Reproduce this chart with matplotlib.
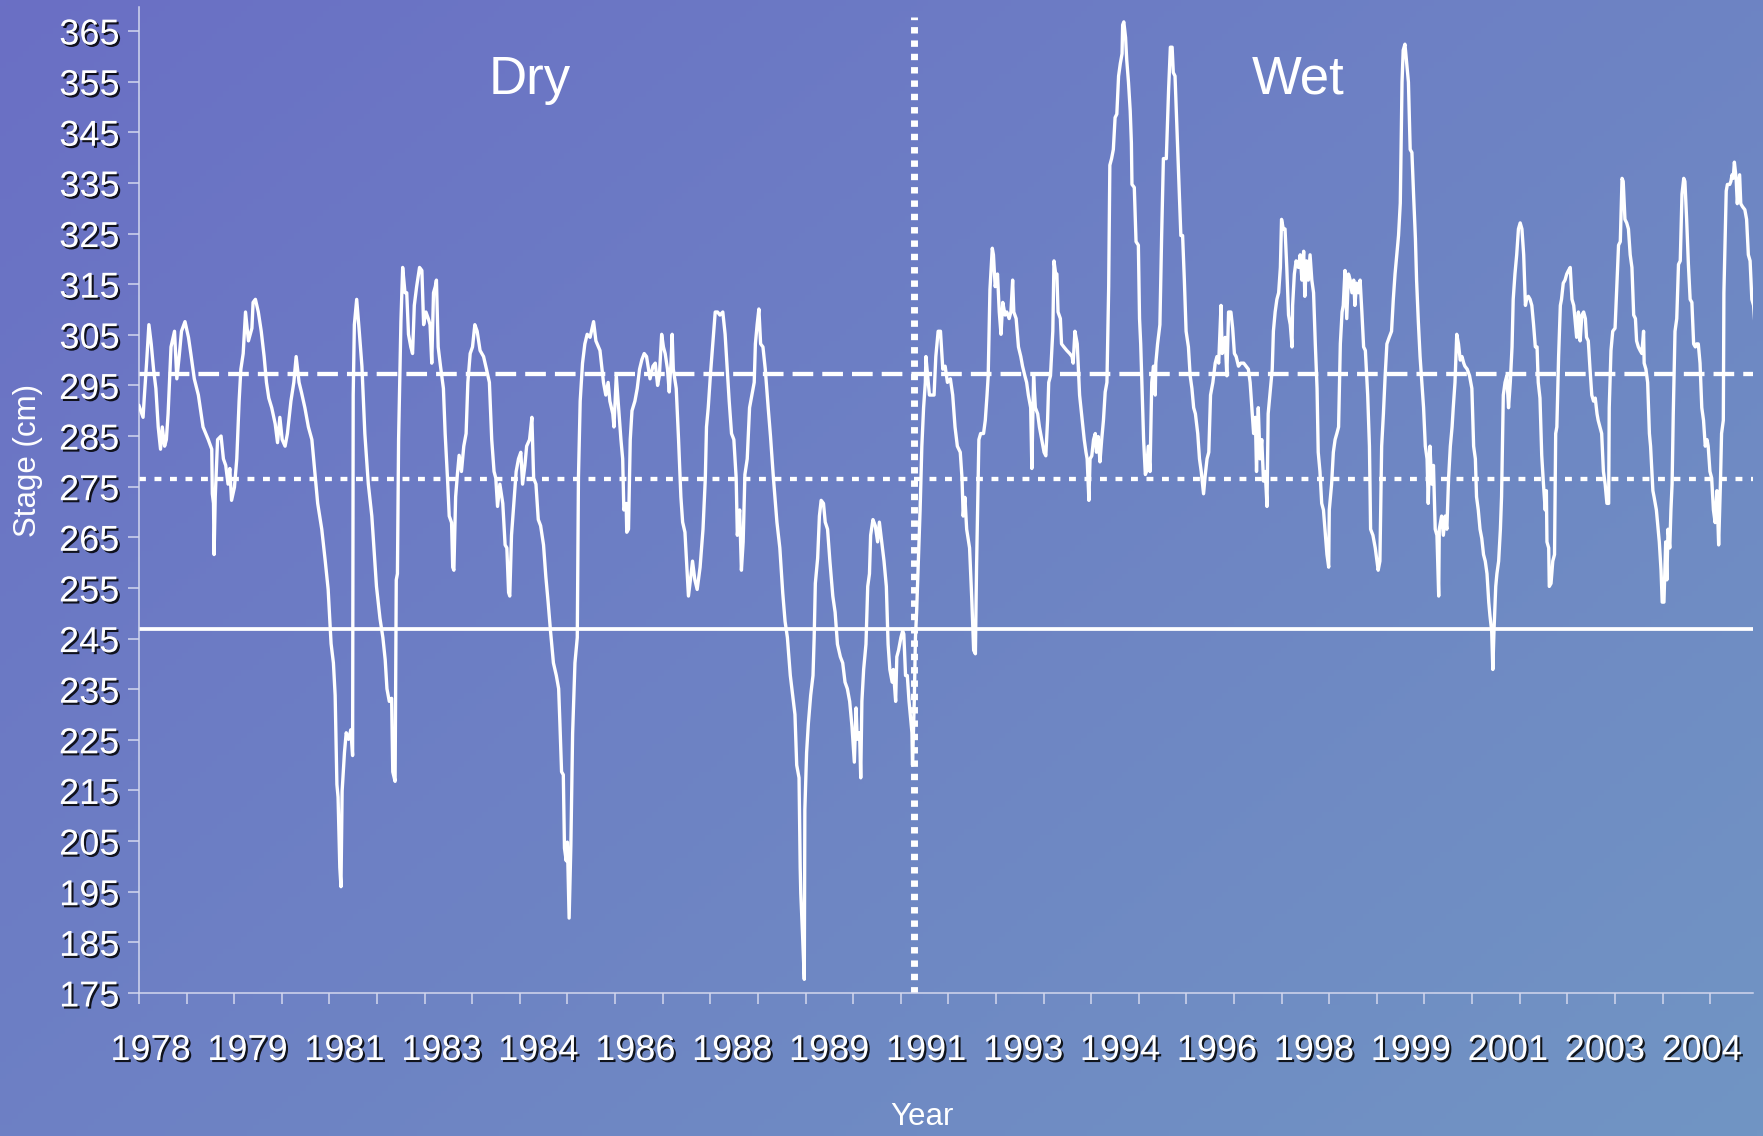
import numpy as np
import matplotlib
matplotlib.use("Agg")
import matplotlib.pyplot as plt
import matplotlib.patheffects as pe

plt.rcParams['font.family'] = ['Liberation Sans', 'DejaVu Sans']

# stage record (decimal year, stage in cm)
dry_record = [
    (1978.00, 291.0), (1978.07, 288.7), (1978.09, 292.5), (1978.13, 299.4), (1978.17, 307.0),
    (1978.21, 303.2), (1978.25, 298.2), (1978.29, 294.4), (1978.33, 286.8), (1978.37, 282.4),
    (1978.40, 286.8), (1978.44, 283.0), (1978.47, 284.3), (1978.50, 289.4), (1978.55, 302.6),
    (1978.61, 305.7), (1978.65, 296.3), (1978.69, 300.7), (1978.73, 305.7), (1978.79, 307.6),
    (1978.85, 304.5), (1978.89, 301.3), (1978.95, 296.3), (1979.02, 293.1), (1979.10, 286.8),
    (1979.19, 284.3), (1979.25, 282.4), (1979.26, 273.6), (1979.28, 271.7), (1979.29, 261.6),
    (1979.31, 273.0), (1979.35, 284.3), (1979.41, 285.0), (1979.45, 280.5), (1979.49, 279.2),
    (1979.53, 275.5), (1979.56, 278.6), (1979.59, 272.3), (1979.64, 274.9), (1979.68, 280.5),
    (1979.72, 291.9), (1979.75, 298.2), (1979.79, 301.3), (1979.83, 309.5), (1979.88, 303.8),
    (1979.94, 306.3), (1979.96, 311.4), (1980.00, 312.0), (1980.05, 309.5), (1980.10, 305.7),
    (1980.15, 300.7), (1980.19, 295.6), (1980.23, 292.5), (1980.28, 290.6), (1980.34, 287.4),
    (1980.38, 283.7), (1980.42, 288.7), (1980.46, 284.3), (1980.51, 283.0), (1980.55, 285.5),
    (1980.61, 291.9), (1980.66, 295.6), (1980.70, 300.7), (1980.75, 295.6), (1980.79, 293.7),
    (1980.85, 290.6), (1980.91, 286.8), (1980.97, 284.3), (1981.02, 278.0), (1981.07, 271.7),
    (1981.14, 266.6), (1981.20, 260.3), (1981.25, 254.7), (1981.30, 244.0), (1981.34, 240.2),
    (1981.37, 233.8), (1981.40, 216.2), (1981.42, 213.7), (1981.45, 199.8), (1981.47, 196.0),
    (1981.49, 214.9), (1981.53, 222.5), (1981.56, 226.4), (1981.60, 225.1), (1981.64, 227.0),
    (1981.67, 221.9), (1981.68, 293.1), (1981.70, 307.0), (1981.74, 312.0), (1981.78, 306.3),
    (1981.83, 298.8), (1981.88, 285.5), (1981.94, 275.5),
    (1982.00, 269.2), (1982.04, 262.2), (1982.08, 255.3), (1982.14, 249.0), (1982.19, 245.2),
    (1982.23, 240.8), (1982.26, 235.1), (1982.30, 232.6), (1982.34, 233.2), (1982.36, 218.7),
    (1982.40, 216.8), (1982.42, 256.6), (1982.44, 257.8), (1982.46, 284.3), (1982.50, 307.6),
    (1982.53, 318.3), (1982.57, 313.3), (1982.60, 313.3), (1982.63, 305.1), (1982.67, 302.6),
    (1982.70, 301.3), (1982.73, 310.8), (1982.77, 314.5), (1982.82, 318.3), (1982.86, 317.7),
    (1982.89, 307.0), (1982.93, 309.5), (1982.97, 308.2), (1983.00, 307.0), (1983.03, 299.4),
    (1983.06, 313.3), (1983.09, 314.5), (1983.11, 315.8), (1983.14, 302.6), (1983.18, 298.8),
    (1983.23, 294.4), (1983.26, 285.5), (1983.30, 276.7), (1983.33, 269.2), (1983.37, 267.9),
    (1983.39, 259.1), (1983.41, 258.5), (1983.44, 273.0), (1983.47, 277.4), (1983.50, 281.2),
    (1983.54, 278.0), (1983.58, 283.0), (1983.62, 285.5), (1983.65, 295.6), (1983.69, 301.3),
    (1983.73, 302.6), (1983.77, 307.0), (1983.81, 305.7), (1983.86, 301.9), (1983.92, 300.7),
    (1983.97, 298.2), (1984.02, 295.6), (1984.06, 284.3), (1984.10, 278.0), (1984.13, 276.7),
    (1984.16, 271.1), (1984.20, 275.5), (1984.25, 271.7), (1984.29, 263.5), (1984.32, 262.9),
    (1984.35, 254.1), (1984.37, 253.4), (1984.40, 265.4), (1984.44, 271.7), (1984.48, 278.0),
    (1984.52, 280.5), (1984.56, 281.8), (1984.59, 275.5), (1984.63, 279.2), (1984.66, 283.0),
    (1984.71, 284.3), (1984.75, 288.7), (1984.78, 276.7), (1984.82, 275.5), (1984.86, 268.5),
    (1984.90, 267.3), (1984.95, 263.5), (1984.99, 257.2), (1985.03, 252.1), (1985.07, 246.5),
    (1985.12, 240.2), (1985.17, 237.7), (1985.21, 235.1), (1985.23, 228.8), (1985.26, 218.7),
    (1985.29, 218.1), (1985.31, 203.6), (1985.34, 201.1), (1985.36, 204.8), (1985.39, 189.8),
    (1985.42, 204.2), (1985.45, 226.3), (1985.49, 240.2), (1985.53, 245.2), (1985.55, 276.7),
    (1985.58, 291.9), (1985.62, 299.4), (1985.66, 303.2), (1985.70, 305.1), (1985.75, 304.5),
    (1985.81, 307.6), (1985.85, 303.8),
    (1985.92, 301.9), (1985.98, 295.6), (1986.02, 293.1), (1986.06, 295.6), (1986.09, 291.9),
    (1986.14, 289.4), (1986.16, 286.8), (1986.20, 296.9), (1986.24, 290.6), (1986.28, 284.3),
    (1986.31, 280.5), (1986.33, 270.4), (1986.37, 271.7), (1986.38, 266.0), (1986.41, 266.6),
    (1986.44, 284.3), (1986.47, 290.0), (1986.52, 291.9), (1986.56, 294.4), (1986.60, 298.2),
    (1986.64, 300.1), (1986.68, 301.3), (1986.72, 300.7), (1986.78, 296.3), (1986.83, 298.8),
    (1986.87, 299.4), (1986.91, 295.0), (1986.94, 296.9), (1986.98, 305.1), (1987.01, 302.6),
    (1987.04, 301.3), (1987.08, 298.2), (1987.11, 293.7), (1987.14, 299.4), (1987.16, 305.1),
    (1987.18, 298.2), (1987.23, 294.4), (1987.27, 284.3), (1987.31, 273.0), (1987.34, 268.0),
    (1987.38, 266.0), (1987.41, 259.7), (1987.44, 253.4), (1987.48, 257.2), (1987.51, 260.3),
    (1987.55, 256.6), (1987.59, 254.7), (1987.64, 259.1), (1987.69, 266.6), (1987.73, 276.7),
    (1987.75, 286.8), (1987.78, 290.6), (1987.82, 297.5), (1987.87, 305.1), (1987.90, 309.5),
    (1987.94, 309.5), (1987.98, 308.9), (1988.03, 309.5), (1988.07, 305.1), (1988.10, 299.4),
    (1988.14, 291.9), (1988.18, 285.5), (1988.22, 284.3), (1988.26, 276.7), (1988.28, 265.4),
    (1988.32, 270.4), (1988.35, 258.5), (1988.38, 264.1), (1988.41, 277.4), (1988.45, 280.5),
    (1988.49, 290.6), (1988.53, 293.1), (1988.57, 295.6), (1988.59, 303.2), (1988.62, 307.0),
    (1988.65, 310.1), (1988.68, 303.2), (1988.72, 302.6), (1988.76, 298.2), (1988.81, 290.6),
    (1988.85, 284.9), (1988.90, 276.7), (1988.96, 268.0), (1989.01, 262.9), (1989.06, 254.0),
    (1989.10, 248.4), (1989.14, 245.2), (1989.19, 237.7), (1989.23, 233.8), (1989.27, 230.0),
    (1989.30, 220.0), (1989.34, 217.5), (1989.36, 199.8), (1989.37, 194.7), (1989.40, 186.6),
    (1989.43, 177.7), (1989.44, 211.2), (1989.47, 222.5), (1989.50, 228.2), (1989.54, 233.8),
    (1989.58, 237.7), (1989.60, 245.2), (1989.62, 255.9), (1989.66, 260.9), (1989.69, 269.2),
    (1989.72, 272.3), (1989.76, 271.7), (1989.79, 268.0), (1989.83, 266.6),
    (1989.87, 260.3), (1989.92, 253.4), (1989.96, 250.2), (1990.00, 243.9), (1990.05, 241.4),
    (1990.09, 240.2), (1990.13, 236.4), (1990.17, 235.1), (1990.21, 232.6), (1990.25, 227.6),
    (1990.29, 220.6), (1990.32, 231.3), (1990.34, 225.1), (1990.38, 226.4), (1990.40, 217.5),
    (1990.42, 232.6), (1990.45, 238.9), (1990.49, 243.9), (1990.52, 255.3), (1990.55, 257.8),
    (1990.57, 265.4), (1990.61, 268.5), (1990.65, 267.3), (1990.69, 264.1), (1990.72, 268.0),
    (1990.76, 264.1), (1990.80, 260.3), (1990.84, 255.3), (1990.87, 243.9), (1990.90, 238.9),
    (1990.94, 236.4), (1990.96, 238.9), (1991.00, 232.6), (1991.02, 241.4), (1991.05, 242.7),
    (1991.09, 245.2), (1991.12, 246.5), (1991.14, 245.9), (1991.17, 237.7), (1991.20, 237.7),
    (1991.23, 232.6), (1991.25, 230.1), (1991.28, 226.4), (1991.29, 220.0),
]

wet_record = [
    (1991.32, 232.6), (1991.34, 245.2), (1991.36, 250.2), (1991.39, 260.3), (1991.42, 270.4),
    (1991.45, 283.0), (1991.48, 290.6), (1991.51, 295.6), (1991.52, 300.7), (1991.55, 296.9),
    (1991.58, 293.1), (1991.62, 293.1), (1991.66, 293.1), (1991.69, 300.7), (1991.73, 305.7),
    (1991.77, 305.7), (1991.81, 298.2), (1991.85, 298.8), (1991.89, 295.6), (1991.94, 296.3),
    (1991.98, 293.1), (1992.02, 286.8), (1992.06, 283.0), (1992.11, 281.8), (1992.14, 276.7),
    (1992.16, 269.2), (1992.19, 272.9), (1992.22, 266.6), (1992.27, 262.9), (1992.31, 252.2),
    (1992.34, 242.7), (1992.37, 242.0), (1992.39, 259.1), (1992.43, 284.3), (1992.46, 285.5),
    (1992.51, 285.5), (1992.54, 288.1), (1992.57, 293.1), (1992.59, 296.9), (1992.62, 313.9),
    (1992.66, 322.1), (1992.68, 320.8), (1992.71, 314.5), (1992.75, 317.0), (1992.78, 309.5),
    (1992.81, 305.1), (1992.84, 311.4), (1992.88, 308.9), (1992.91, 309.5), (1992.95, 308.2),
    (1992.98, 309.5), (1993.01, 315.8), (1993.03, 309.5), (1993.07, 308.2), (1993.11, 302.6),
    (1993.15, 300.7), (1993.18, 298.8), (1993.22, 296.9), (1993.25, 295.6), (1993.28, 293.1),
    (1993.32, 290.6), (1993.34, 278.6), (1993.37, 296.9), (1993.40, 290.6), (1993.44, 289.4),
    (1993.47, 286.8), (1993.51, 284.3), (1993.55, 281.8), (1993.58, 281.1), (1993.61, 288.1),
    (1993.63, 295.6), (1993.66, 296.9), (1993.70, 305.7), (1993.72, 319.6), (1993.75, 317.0),
    (1993.77, 317.0), (1993.79, 309.5),
    (1993.83, 308.2), (1993.85, 303.2), (1993.89, 302.6), (1993.94, 301.9), (1993.99, 301.3),
    (1994.03, 300.7), (1994.05, 299.4), (1994.08, 305.7), (1994.12, 303.2), (1994.16, 293.1),
    (1994.20, 288.7), (1994.24, 284.3), (1994.27, 281.8), (1994.29, 280.5), (1994.32, 272.3),
    (1994.34, 280.5), (1994.37, 281.1), (1994.40, 284.3), (1994.43, 285.5), (1994.45, 281.8),
    (1994.48, 284.9), (1994.51, 279.9), (1994.54, 284.3), (1994.57, 288.1), (1994.60, 293.7),
    (1994.63, 295.6), (1994.66, 314.5), (1994.68, 338.5), (1994.71, 339.8), (1994.74, 341.6),
    (1994.77, 347.9), (1994.80, 348.6), (1994.83, 356.1), (1994.86, 358.6), (1994.89, 360.5),
    (1994.90, 366.2), (1994.92, 366.8), (1994.95, 363.7), (1994.97, 359.3), (1995.00, 354.9),
    (1995.03, 349.2), (1995.05, 342.9), (1995.06, 334.7), (1995.10, 334.1), (1995.13, 323.4),
    (1995.17, 322.7), (1995.19, 308.2), (1995.21, 303.2), (1995.23, 295.6), (1995.26, 284.3),
    (1995.29, 277.4), (1995.31, 278.0), (1995.34, 283.0), (1995.37, 278.0), (1995.40, 295.6),
    (1995.43, 298.8), (1995.46, 293.1), (1995.47, 299.4), (1995.50, 303.2), (1995.54, 307.0),
    (1995.57, 324.6), (1995.60, 339.8), (1995.65, 339.8), (1995.67, 346.7), (1995.69, 353.6),
    (1995.72, 361.8), (1995.75, 361.8), (1995.77, 356.8), (1995.80, 356.1), (1995.83, 346.7),
    (1995.86, 337.2), (1995.90, 324.6), (1995.93, 324.6), (1995.96, 315.8), (1995.99, 305.7),
    (1996.03, 302.6), (1996.06, 296.9), (1996.09, 294.4), (1996.12, 290.6), (1996.15, 289.4),
    (1996.19, 285.5), (1996.22, 280.5), (1996.25, 278.0), (1996.29, 273.6), (1996.32, 277.4),
    (1996.35, 280.5), (1996.38, 281.8), (1996.41, 293.1), (1996.45, 295.6), (1996.49, 299.4),
    (1996.52, 300.7), (1996.55, 299.4), (1996.59, 310.8), (1996.61, 301.3), (1996.63, 301.9),
    (1996.66, 304.5), (1996.69, 296.9), (1996.72, 309.5), (1996.76, 309.5), (1996.79, 306.3),
    (1996.82, 301.3), (1996.85, 300.7), (1996.89, 298.8), (1996.93, 299.4), (1996.98, 299.4),
    (1997.02, 298.8), (1997.06, 298.2), (1997.09, 295.6), (1997.12, 290.6), (1997.15, 285.5),
    (1997.18, 288.7), (1997.20, 278.0), (1997.23, 290.6), (1997.26, 280.5), (1997.29, 284.3),
    (1997.32, 276.1), (1997.35, 278.0), (1997.38, 271.1), (1997.40, 289.4), (1997.43, 293.1),
    (1997.47, 298.2), (1997.49, 305.7), (1997.52, 309.5), (1997.55, 312.0), (1997.58, 313.3),
    (1997.61, 318.3), (1997.63, 327.8), (1997.66, 325.9), (1997.69, 325.9), (1997.72, 318.3),
    (1997.75, 308.9),
    (1997.78, 307.0), (1997.81, 302.6), (1997.82, 310.8), (1997.85, 317.0), (1997.88, 319.6),
    (1997.92, 318.3), (1997.95, 320.8), (1997.98, 315.8), (1998.01, 321.5), (1998.03, 312.6),
    (1998.06, 319.6), (1998.09, 315.8), (1998.12, 320.8), (1998.15, 315.8), (1998.18, 313.3),
    (1998.21, 303.2), (1998.24, 294.4), (1998.26, 281.8), (1998.29, 278.0), (1998.32, 271.7),
    (1998.35, 270.4), (1998.38, 266.0), (1998.41, 261.6), (1998.44, 259.1), (1998.45, 270.4),
    (1998.49, 275.5), (1998.52, 281.8), (1998.55, 284.3), (1998.58, 285.5), (1998.61, 286.8),
    (1998.64, 303.2), (1998.67, 309.5), (1998.69, 310.8), (1998.72, 317.7), (1998.75, 308.2),
    (1998.78, 317.0), (1998.81, 315.8), (1998.84, 313.3), (1998.87, 315.8), (1998.89, 310.8),
    (1998.92, 315.2), (1998.95, 313.3), (1998.98, 315.8), (1999.01, 309.5), (1999.04, 302.6),
    (1999.07, 301.9), (1999.11, 293.1), (1999.14, 283.0), (1999.16, 266.6), (1999.20, 265.4),
    (1999.24, 262.9), (1999.27, 260.3), (1999.29, 258.5), (1999.32, 260.3), (1999.35, 283.0),
    (1999.38, 289.4), (1999.41, 296.9), (1999.44, 303.2), (1999.48, 304.5), (1999.52, 305.7),
    (1999.55, 312.0), (1999.58, 317.0), (1999.61, 320.8), (1999.64, 324.6), (1999.67, 331.0),
    (1999.70, 354.9), (1999.72, 361.2), (1999.75, 362.4), (1999.78, 358.6), (1999.81, 354.9),
    (1999.84, 341.6), (1999.87, 341.0), (1999.90, 332.2), (1999.93, 324.0), (1999.95, 315.8),
    (1999.98, 307.6), (2000.01, 300.7), (2000.04, 295.6), (2000.07, 290.6), (2000.10, 283.0),
    (2000.13, 280.5), (2000.15, 271.7), (2000.18, 283.0), (2000.21, 275.5), (2000.24, 279.2),
    (2000.27, 266.6), (2000.30, 265.4), (2000.33, 253.4), (2000.34, 266.6), (2000.38, 269.2),
    (2000.41, 265.4), (2000.44, 269.2), (2000.47, 266.6), (2000.50, 276.7), (2000.53, 283.0),
    (2000.56, 286.8), (2000.58, 290.6), (2000.61, 295.6), (2000.64, 305.1), (2000.67, 303.2),
    (2000.70, 300.0), (2000.73, 300.7), (2000.76, 299.4), (2000.78, 298.8), (2000.82, 298.2),
    (2000.86, 296.9), (2000.90, 294.4), (2000.93, 283.0), (2000.96, 280.5), (2000.98, 273.0),
    (2001.01, 270.4), (2001.04, 266.6), (2001.07, 264.8), (2001.10, 261.6), (2001.13, 260.3),
    (2001.16, 257.8), (2001.19, 252.2), (2001.21, 249.6), (2001.24, 246.5), (2001.26, 238.9),
    (2001.28, 246.5), (2001.31, 255.3), (2001.33, 257.8), (2001.36, 260.3), (2001.39, 266.6),
    (2001.41, 273.0), (2001.44, 293.1), (2001.47, 295.6), (2001.50, 296.9), (2001.53, 290.6),
    (2001.56, 295.6), (2001.59, 302.6), (2001.61, 312.0), (2001.64, 317.0), (2001.67, 320.8),
    (2001.70, 325.9),
    (2001.73, 327.1), (2001.76, 325.9), (2001.79, 320.8), (2001.82, 310.8), (2001.84, 312.0),
    (2001.87, 312.6), (2001.90, 312.0), (2001.93, 310.8), (2001.96, 307.0), (2001.99, 302.6),
    (2002.02, 302.6), (2002.04, 295.6), (2002.07, 292.5), (2002.10, 281.2), (2002.13, 275.5),
    (2002.16, 270.4), (2002.18, 274.2), (2002.19, 264.1), (2002.22, 262.9), (2002.23, 255.3),
    (2002.26, 255.9), (2002.29, 260.3), (2002.32, 261.6), (2002.34, 285.5), (2002.36, 286.8),
    (2002.39, 300.7), (2002.42, 310.8), (2002.44, 312.0), (2002.47, 315.2), (2002.50, 315.8),
    (2002.53, 317.0), (2002.56, 317.7), (2002.59, 318.3), (2002.62, 312.0), (2002.65, 310.8),
    (2002.67, 308.2), (2002.70, 304.5), (2002.73, 309.5), (2002.76, 303.8), (2002.79, 308.9),
    (2002.82, 309.5), (2002.85, 308.2), (2002.87, 304.5), (2002.90, 303.8), (2002.93, 298.2),
    (2002.96, 293.1), (2002.99, 291.9), (2003.02, 292.5), (2003.05, 289.4), (2003.07, 288.1),
    (2003.10, 286.8), (2003.13, 285.5), (2003.16, 278.0), (2003.19, 275.5), (2003.22, 271.7),
    (2003.25, 271.7), (2003.26, 290.6), (2003.29, 301.9), (2003.32, 305.7), (2003.36, 306.3),
    (2003.39, 314.5), (2003.42, 322.7), (2003.45, 323.4), (2003.48, 335.9), (2003.50, 335.3),
    (2003.53, 327.8), (2003.56, 327.1), (2003.59, 325.9), (2003.62, 320.8), (2003.65, 318.3),
    (2003.68, 308.9), (2003.71, 308.2), (2003.73, 303.8), (2003.76, 302.6), (2003.79, 301.9),
    (2003.82, 301.3), (2003.85, 305.7), (2003.86, 299.4), (2003.89, 298.2), (2003.92, 295.6),
    (2003.95, 285.5), (2003.97, 283.0), (2004.01, 274.2), (2004.03, 273.0), (2004.07, 270.4),
    (2004.09, 267.9), (2004.12, 264.1), (2004.15, 258.5), (2004.17, 252.2), (2004.20, 252.2),
    (2004.23, 264.1), (2004.25, 256.6), (2004.27, 266.6), (2004.30, 262.9), (2004.32, 270.4),
    (2004.34, 275.5), (2004.36, 289.4), (2004.39, 305.7), (2004.42, 308.2), (2004.45, 318.9),
    (2004.48, 319.6), (2004.51, 332.8), (2004.54, 335.9), (2004.56, 335.3), (2004.59, 327.8),
    (2004.62, 318.9), (2004.65, 312.0), (2004.68, 311.4), (2004.71, 303.2), (2004.74, 302.6),
    (2004.76, 303.2), (2004.79, 303.2), (2004.82, 299.4), (2004.85, 290.6), (2004.88, 288.1),
    (2004.91, 283.0), (2004.94, 284.3), (2004.96, 283.0), (2004.99, 278.0), (2005.02, 276.7),
    (2005.05, 270.4), (2005.08, 267.9), (2005.11, 274.2), (2005.14, 263.5), (2005.17, 275.5),
    (2005.19, 285.5), (2005.22, 288.1), (2005.23, 313.3), (2005.27, 333.4), (2005.29, 334.7),
    (2005.33, 334.7), (2005.35, 335.3), (2005.37, 336.6), (2005.39, 335.9), (2005.41, 339.1),
    (2005.44, 335.9), (2005.46, 330.9), (2005.50, 336.6), (2005.52, 330.9), (2005.55, 330.3),
    (2005.59, 329.7), (2005.62, 327.8), (2005.65, 320.8), (2005.68, 319.6), (2005.71, 312.0),
    (2005.74, 310.8), (2005.76, 307.6),
]

# reference stages (cm)
high_stage = 297.2
mid_stage = 276.5
low_stage = 246.8
split_year = 1991.31  # dry / wet boundary

year_labels = ['1978', '1979', '1981', '1983', '1984', '1986', '1988', '1989', '1991',
               '1993', '1994', '1996', '1998', '1999', '2001', '2003', '2004']
stage_ticks = list(range(175, 366, 10))

W, H = 1763, 1136
fig = plt.figure(figsize=(W / 100, H / 100), dpi=100)

# diagonal purple -> blue backdrop
bg = fig.add_axes([0, 0, 1, 1])
gx, gy = np.meshgrid(np.linspace(0, 1, 300), np.linspace(0, 1, 200))
t = 0.55 * gx + 0.45 * gy
c0 = np.array([106, 111, 197]) / 255
c1 = np.array([113, 149, 195]) / 255
bg.imshow(c0 + (c1 - c0) * t[..., None], aspect='auto', extent=(0, 1, 0, 1))
bg.axis('off')

ax = fig.add_axes([139 / W, 1 - 993 / H, 1614 / W, 986.3 / H])
ax.patch.set_visible(False)

record = dry_record + wet_record
years = [p[0] for p in record]
stage = [p[1] for p in record]

ax.axhline(high_stage, color='white', lw=3.1, linestyle=(0, (4.8, 2.1)), zorder=2)
ax.axhline(mid_stage, color='white', lw=3.1, linestyle=(0, (1.6, 2.0)), zorder=2)
ax.axhline(low_stage, color='white', lw=2.7, zorder=2)
ax.axvline(split_year, color='white', lw=5, linestyle=(0, (0.92, 1.0)), ymax=0.99, zorder=2)
ax.plot(years, stage, color='white', lw=2.4, zorder=3)

ax.set_xlim(1978.0, 2005.73)
ax.set_ylim(175, 369.8)

axis_col = '#d3d7ee'
ax.set_yticks(stage_ticks)
ax.set_xticks([1978.2 + 1.6656 * i for i in range(len(year_labels))], year_labels)
ax.set_xticks([1978.0 + 0.818 * i for i in range(34)], minor=True)
ax.tick_params(axis='x', which='major', length=0, pad=28.8, labelsize=26, labelcolor='white')
ax.tick_params(axis='x', which='minor', length=8, width=1.1, color=axis_col)
ax.tick_params(axis='y', length=8, width=1.1, color=axis_col, pad=6,
               labelsize=26, labelcolor='white')
for side in ['top', 'right']:
    ax.spines[side].set_visible(False)
for side in ['left', 'bottom']:
    ax.spines[side].set_color(axis_col)
    ax.spines[side].set_linewidth(1.1)

shadow = [pe.SimplePatchShadow(offset=(1.5, -1.5), shadow_rgbFace='black', alpha=0.85),
          pe.Normal()]
for lab in ax.get_xticklabels() + ax.get_yticklabels():
    lab.set_path_effects(shadow)

ax.text(1984.72, 352.6, 'Dry', color='white', fontsize=38, ha='center', va='baseline')
ax.text(1997.91, 352.6, 'Wet', color='white', fontsize=38, ha='center', va='baseline')

fig.text(28 / W, 1 - 460 / H, 'Stage (cm)', rotation=90, ha='center', va='center',
         fontsize=22.5, color='white')
fig.text(922 / W, 1 - 1117 / H, 'Year', ha='center', va='center', fontsize=22.5, color='white')

fig.savefig('out.png', dpi=100)
